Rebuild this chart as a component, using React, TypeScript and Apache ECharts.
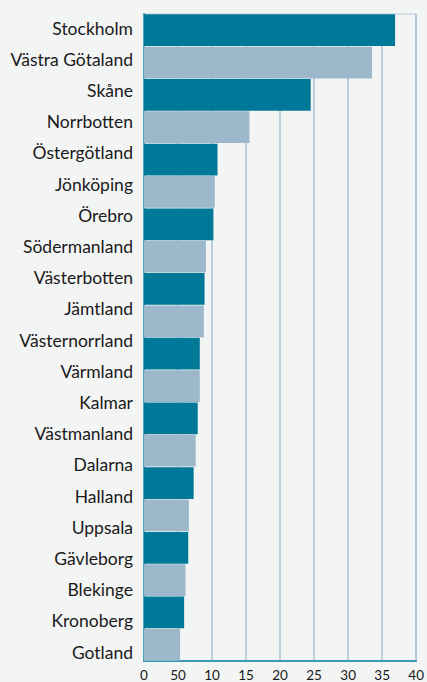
import React, { useEffect, useRef } from "react";
import * as echarts from "echarts";

const categoryLabels = [
  "Stockholm", "Västra Götaland", "Skåne", "Norrbotten", "Östergötland",
  "Jönköping", "Örebro", "Södermanland", "Västerbotten", "Jämtland",
  "Västernorrland", "Värmland", "Kalmar", "Västmanland", "Dalarna",
  "Halland", "Uppsala", "Gävleborg", "Blekinge", "Kronoberg", "Gotland",
];

const barValues = [
  36.9, 33.5, 24.5, 15.5, 10.8, 10.4, 10.2, 9.1, 8.9, 8.8,
  8.2, 8.2, 7.9, 7.6, 7.3, 6.6, 6.5, 6.1, 5.9, 5.3,
];

const tickLabels = ["0", "50", "10", "15", "20", "25", "30", "35", "40"];

const DARK = "#007898";
const LIGHT = "#9db8cb";

export default function App() {
  const ref = useRef<HTMLDivElement>(null);
  useEffect(() => {
    if (!ref.current) return;
    const chart = echarts.init(ref.current, null, { renderer: "svg" });
    chart.setOption({
      animation: false,
      backgroundColor: "#f3f4f4",
      textStyle: { fontFamily: "Lato" },
      grid: [
        {
          left: 144, right: 5, top: 14, bottom: 18,
          show: true, borderColor: "#b9ccd8", borderWidth: 1, backgroundColor: "transparent",
        },
        { left: 144, right: 5, top: 12.4, bottom: 14.4 },
      ],
      xAxis: [
        {
          type: "value", min: 0, max: 40, interval: 5, gridIndex: 0,
          axisLine: { show: true, onZero: false, lineStyle: { color: "#3a9ab4", width: 2 } },
          axisTick: { show: false },
          splitLine: { show: true, lineStyle: { color: "#a9c2d3", width: 1.5 } },
          axisLabel: {
            color: "#1a1a1a", fontSize: 13.5, margin: 7,
            formatter: (v: number) => tickLabels[Math.round(v / 5)] ?? "",
          },
        },
        {
          type: "value", min: 0, max: 40, gridIndex: 1, show: false,
        },
      ],
      yAxis: [
        {
          type: "category", data: barValues.map((_, i) => String(i)), inverse: true,
          position: "right", gridIndex: 0,
          axisLine: { show: true, lineStyle: { color: "#2b93b0", width: 2 } },
          axisTick: { show: false },
          axisLabel: { show: false },
        },
        {
          type: "category", data: barValues.map((_, i) => String(i)), inverse: true,
          position: "left", gridIndex: 0, offset: 0,
          axisLine: { show: true, lineStyle: { color: "#5aa9c0", width: 1.5 } },
          axisTick: { show: false },
          axisLabel: { show: false },
        },
        {
          type: "category", data: categoryLabels, inverse: true, position: "left", gridIndex: 1,
          axisLine: { show: false },
          axisTick: { show: false },
          axisLabel: { color: "#1a1a1a", fontSize: 17.5, margin: 11 },
        },
      ],
      series: [
        {
          type: "bar", xAxisIndex: 0, yAxisIndex: 0, barCategoryGap: "2%",
          data: barValues.map((v, i) => ({ value: v, itemStyle: { color: i % 2 === 0 ? DARK : LIGHT } })),
        },
      ],
    });
    return () => chart.dispose();
  }, []);
  return <div ref={ref} style={{ width: 427, height: 682, position: "absolute", left: 0, top: 0 }} />;
}
